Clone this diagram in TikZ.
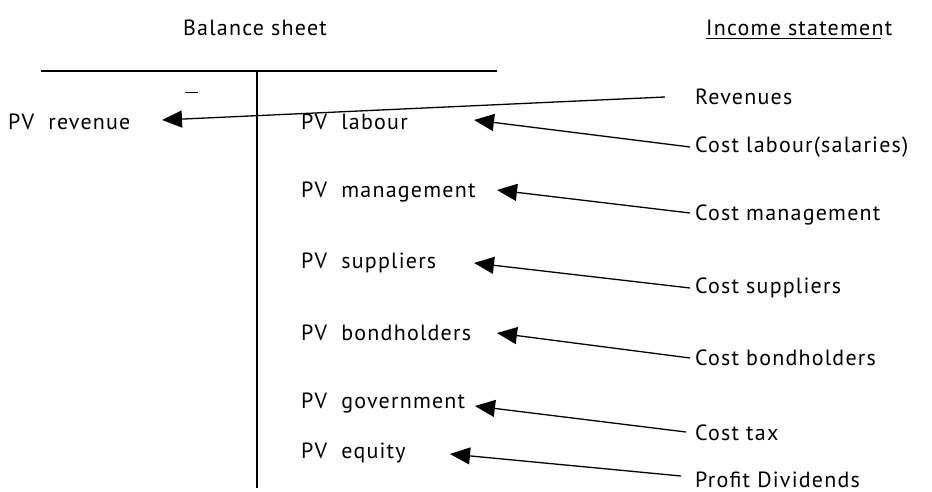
\documentclass[tikz,border=0pt]{standalone}
\usepackage{fontspec}
\setmainfont{PT Sans}[LetterSpace=5.5]
\usetikzlibrary{arrows.meta}
\begin{document}
\begin{tikzpicture}[x=1pt,y=-1pt,
  lbl/.style={anchor=west,inner sep=0pt,font=\fontsize{22}{25}\selectfont},
  conn/.style={line width=1.3pt,-{Triangle[length=20pt,width=17pt]}},
  rule/.style={line width=1.3pt}]
\useasboundingbox (0,0) rectangle (932,492);
% headings
\node[lbl,anchor=center] (bs) at (255,28) {Balance sheet};
\node[lbl] (is) at (706,28) {Income statement};
\coordinate (ulA) at (706,39);
\coordinate (ulB) at (881,39);
\draw[line width=1pt] (ulA) -- (ulB);
% T account
\coordinate (hA) at (41,71);
\coordinate (hB) at (497,71);
\coordinate (vA) at (257,71);
\coordinate (vB) at (257,488);
\draw[rule] (hA) -- (hB);
\draw[rule] (vA) -- (vB);
\coordinate (mA) at (185,93);
\coordinate (mB) at (198,93);
\draw[line width=1pt] (mA) -- (mB);
% balance sheet items
\node[lbl] (pvrev) at (8,122) {PV\ \ revenue};
\node[lbl] (pvlab) at (301,122) {PV\ \ labour};
\node[lbl] (pvman) at (301,192) {PV\ \ management};
\node[lbl] (pvsup) at (301,263) {PV\ \ suppliers};
\node[lbl] (pvbond) at (301,333) {PV\ \ bondholders};
\node[lbl] (pvgov) at (301,403) {PV\ \ government};
\node[lbl] (pveq) at (301,453) {PV\ \ equity};
% income statement items
\node[lbl] (rev) at (695,97) {Revenues};
\node[lbl] (clab) at (695,147) {Cost labour(salaries)};
\node[lbl] (cman) at (695,215) {Cost management};
\node[lbl] (csup) at (695,288) {Cost suppliers};
\node[lbl] (cbond) at (695,358) {Cost bondholders};
\node[lbl] (ctax) at (695,433) {Cost tax};
\node[lbl] (cdiv) at (695,480) {Profit Dividends};
% arrow ends
\coordinate (t1) at (665,97);   \coordinate (h1) at (162,120);
\coordinate (t2) at (690,147);  \coordinate (h2) at (474,120);
\coordinate (t3) at (690,213);  \coordinate (h3) at (497,190);
\coordinate (t4) at (690,288);  \coordinate (h4) at (474,263);
\coordinate (t5) at (690,358);  \coordinate (h5) at (497,333);
\coordinate (t6) at (686,432);  \coordinate (h6) at (475,406);
\coordinate (t7) at (681,476);  \coordinate (h7) at (450,454);
\draw[conn] (t1) -- (h1);
\draw[conn] (t2) -- (h2);
\draw[conn] (t3) -- (h3);
\draw[conn] (t4) -- (h4);
\draw[conn] (t5) -- (h5);
\draw[conn] (t6) -- (h6);
\draw[conn] (t7) -- (h7);
\end{tikzpicture}
\end{document}
